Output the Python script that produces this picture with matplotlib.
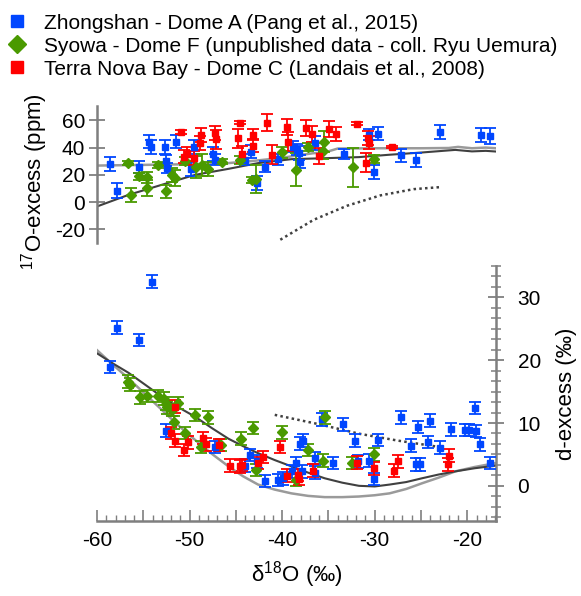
import numpy as np
import matplotlib
matplotlib.use("Agg")
import matplotlib.pyplot as plt
from matplotlib.lines import Line2D
from matplotlib.ticker import MultipleLocator, FuncFormatter

plt.rcParams['font.family'] = ['Liberation Sans', 'DejaVu Sans']
plt.rcParams['mathtext.fontset'] = 'custom'
plt.rcParams['mathtext.rm'] = 'Liberation Sans'
plt.rcParams['mathtext.it'] = 'Liberation Sans:italic'
plt.rcParams['mathtext.default'] = 'regular'
plt.rcParams['axes.unicode_minus'] = False

# ---------------- data: 17O-excess (top panel) ----------------
zh_d18o_top = [-58.6, -57.8, -55.5, -54.4, -54.2, -52.7, -52.6, -52.4, -51.5, -49.9, -49.5, -47.5,
               -47.3, -44.0, -43.4, -42.7, -41.8, -40.5, -38.8, -38.4, -38.2, -38.1, -36.4, -33.3,
               -30.6, -29.6, -30.1, -27.2, -25.5, -22.9, -18.5, -17.5]
zh_o17 = [28.1, 8.5, 25.5, 44.4, 40.2, 40.3, 30.5, 25.0, 44.4, 24.2, 40.3, 35.2,
          31.0, 31.0, 37.0, 13.9, 26.1, 31.3, 40.7, 38.3, 35.9, 29.7, 43.4, 35.3,
          49.3, 50.3, 22.0, 34.2, 31.0, 51.3, 49.3, 48.6]
zh_o17_err = [5, 5.4, 4.4, 5, 5, 5, 4, 4, 5, 5, 5, 5,
              4, 4, 5, 5, 4, 4, 4, 4, 5, 5, 5, 4,
              4, 5, 5, 5, 5, 5, 5, 6]

sy_d18o_top = [-56.6, -56.3, -55.5, -54.6, -54.6, -53.4, -52.5, -51.9, -51.6, -50.5, -49.3, -48.7,
               -48.0, -46.5, -44.6, -43.3, -42.8, -40.0, -38.5, -37.2, -35.5, -35.6, -32.4, -30.1]
sy_o17 = [29.0, 5.3, 18.8, 18.3, 10.5, 27.3, 7.8, 20.0, 17.6, 30.3, 25.6, 27.3,
          24.4, 29.7, 31.0, 16.3, 17.0, 36.4, 23.7, 40.7, 44.4, 37.6, 25.4, 31.5]
sy_o17_err = [1.5, 5.4, 2.5, 4, 6, 2, 5, 5, 6, 3, 8, 8,
              5, 2, 3, 2, 10, 4, 12, 3, 8, 6, 14, 3]

tn_d18o_top = [-50.9, -50.6, -50.3, -49.5, -48.9, -48.8, -47.2, -47.1, -44.8, -44.6, -44.3, -43.2,
               -43.1, -41.6, -41.1, -39.5, -39.4, -37.4, -36.8, -36.0, -34.9, -34.2, -31.9, -30.7,
               -30.6, -30.9, -28.1]
tn_o17 = [51.3, 33.4, 35.4, 32.2, 43.2, 49.3, 50.5, 46.2, 46.9, 58.3, 35.0, 49.3,
          41.5, 58.3, 34.7, 54.9, 44.4, 54.2, 50.0, 33.9, 53.5, 50.0, 57.4, 46.9,
          43.7, 29.0, 40.7]
tn_o17_err = [1.5, 5, 5, 5, 5, 5, 5, 7, 7, 1, 6, 4,
              5, 6, 7, 6, 7, 6, 6, 6, 6, 5, 1.2, 5,
              5, 7, 0.8]

# model curves, top panel
mod1_top_x = [-60, -56.6, -53, -49.4, -45.8, -42.6, -39, -35.4, -31.7, -28.5, -24.9, -21.3, -19.5, -18, -16.9]
mod1_top_y = [-3.2, 5.3, 12.7, 20.0, 24.4, 28.6, 31.5, 32.2, 33.0, 34.7, 36.4, 38.3, 37.2, 37.6, 37.1]
mod2_top_x = [-60, -55, -50, -46, -43, -40, -37.9, -36.6, -35.4, -34.0, -30, -25, -22, -21, -19.5, -18, -16.9]
mod2_top_y = [26.8, 27.3, 27.8, 28.5, 30.3, 32.5, 34.7, 35.9, 36.4, 39.3, 39.5, 39.5, 39.7, 40.5, 39.5, 40.0, 39.5]
mod3_top_x = [-40.2, -36.6, -33.0, -29.4, -25.8, -22.9]
mod3_top_y = [-27.6, -13.0, -2.7, 4.9, 9.5, 11.0]

# ---------------- data: d-excess (bottom panel) ----------------
zh_d18o_bot = [-54.1, -57.8, -55.5, -58.6, -52.5, -47.3, -43.5, -44.0, -42.7, -41.8, -40.5, -39.9,
               -38.9, -38.5, -38.1, -37.7, -37.9, -36.4, -36.4, -35.7, -34.5, -33.4, -32.1, -31.8,
               -30.6, -30.1, -29.6, -27.2, -26.1, -25.3, -25.5, -25.1, -24.2, -24.0, -22.9, -21.8,
               -20.2, -19.8, -19.2, -19.1, -18.6, -17.5]
zh_dex = [32.5, 25.2, 23.2, 18.9, 8.8, 6.2, 4.9, 3.2, 3.9, 0.8, 0.9, 1.2,
          2.3, 3.6, 6.7, 7.2, 2.3, 4.4, 2.1, 10.6, 3.6, 9.8, 7.2, 3.9,
          4.0, 1.1, 7.3, 10.9, 6.4, 9.4, 3.4, 3.4, 7.0, 10.4, 6.1, 9.0,
          8.9, 8.9, 12.4, 8.7, 6.6, 3.6]

sy_d18o_bot = [-56.6, -56.4, -55.4, -54.6, -53.4, -52.8, -52.5, -52.4, -51.9, -51.3, -51.7, -50.5,
               -49.4, -48.0, -48.8, -46.6, -44.4, -43.2, -42.8, -40.0, -38.5, -37.2, -35.6, -35.4,
               -32.5, -30.1]
sy_dex = [16.6, 16.1, 14.1, 14.3, 14.3, 13.9, 13.1, 12.5, 12.1, 13.2, 10.1, 8.4,
          11.3, 10.9, 6.2, 6.5, 7.5, 9.2, 2.5, 8.5, 0.9, 5.7, 4.0, 10.9,
          3.6, 5.0]

tn_d18o_bot = [-51.6, -52.0, -51.6, -50.2, -50.6, -48.5, -48.2, -46.8, -45.6, -44.6, -44.3, -42.6,
               -42.1, -40.2, -39.5, -38.3, -38.2, -36.7, -31.9, -30.1, -27.5, -27.9, -22.0, -22.1]
tn_dex = [12.6, 8.4, 7.2, 6.9, 5.7, 7.6, 6.6, 6.5, 3.2, 3.1, 3.3, 3.6,
          4.6, 6.2, 1.6, 1.7, 1.1, 2.4, 3.7, 2.8, 3.9, 2.4, 4.8, 3.4]
dex_err = 1.0

mod_bot_x = [-60, -58.3, -56.6, -54.8, -53, -51.2, -49.4, -47.6, -45.8, -44.2, -42.6, -40.8, -39,
             -37.2, -35.4, -33.5, -31.7, -30, -28.4, -26.6, -24.9, -23.1, -21.3, -19.2, -17]
mod1_bot_y = [21.1, 19.5, 18.0, 16.1, 14.2, 12.5, 11.0, 9.2, 7.5, 6.3, 5.2, 4.1, 3.1,
              2.1, 1.2, 0.5, 0.0, -0.1, 0.2, 0.6, 1.2, 1.8, 2.3, 2.8, 3.2]
mod2_bot_y = [21.6, 19.3, 17.1, 14.6, 12.1, 9.6, 7.3, 5.1, 3.1, 1.5, 0.2, -0.6, -1.2,
              -1.6, -1.8, -1.8, -1.7, -1.5, -1.2, -0.5, 0.4, 1.3, 2.3, 3.0, 3.6]
mod3_bot_x = [-40.8, -36.0, -31.7, -27.5, -23.1]
mod3_bot_y = [11.3, 9.8, 8.3, 7.2, 6.2]

labels = ["Zhongshan - Dome A (Pang et al., 2015)",
          "Syowa - Dome F (unpublished data - coll. Ryu Uemura)",
          "Terra Nova Bay - Dome C (Landais et al., 2008)"]
c_blue = '#0046FF'
c_green = '#4A9A00'
c_red = '#FF0000'
c_dark = '#404040'
c_light = '#9a9a9a'
c_spine = '#7f7f7f'

W, H = 581, 596
fig = plt.figure(figsize=(W / 100, H / 100), dpi=100)

def rect(x0, y0, x1, y1):
    return [x0 / W, 1 - y1 / H, (x1 - x0) / W, (y1 - y0) / H]

XLIM = (-60, -16.9)
ax1 = fig.add_axes(rect(97, 106, 496, 243))
ax2 = fig.add_axes(rect(97, 266, 496, 521))
for a in (ax1, ax2):
    a.set_facecolor('none')
    a.set_xlim(*XLIM)

ebkw = dict(linestyle='none', capsize=4.5, elinewidth=1.3, capthick=1.3)
TICK_FS = 15
LAB_FS = 16

# top panel
ax1.plot(mod2_top_x, mod2_top_y, color=c_light, lw=1.8, zorder=2)
ax1.plot(mod1_top_x, mod1_top_y, color=c_dark, lw=1.5, zorder=2)
ax1.plot(mod3_top_x, mod3_top_y, color=c_dark, lw=1.8, linestyle=(0, (1, 1.3)), zorder=2)
ax1.errorbar(zh_d18o_top, zh_o17, yerr=zh_o17_err, color=c_blue, marker='s', ms=5, **ebkw, zorder=3)
ax1.errorbar(sy_d18o_top, sy_o17, yerr=sy_o17_err, color=c_green, marker='D', ms=5, **ebkw, zorder=3)
ax1.errorbar(tn_d18o_top, tn_o17, yerr=tn_o17_err, color=c_red, marker='s', ms=5, **ebkw, zorder=3)
ax1.set_ylim(-30, 70.5)
for s in ('top', 'right', 'bottom'):
    ax1.spines[s].set_visible(False)
ax1.spines['left'].set_color(c_spine)
ax1.spines['left'].set_linewidth(1.8)
ax1.set_xticks([])
ax1.yaxis.set_major_locator(MultipleLocator(20))
ax1.tick_params(axis='y', direction='inout', length=11, width=1.3, color=c_spine,
                labelsize=TICK_FS, pad=3)
ax1.set_ylabel(r'$^{17}$O-excess (ppm)', fontsize=LAB_FS)
ax1.yaxis.set_label_coords(-0.118, 0.45)

# bottom panel
ax2.plot(mod_bot_x, mod2_bot_y, color=c_light, lw=1.8, zorder=2)
ax2.plot(mod_bot_x, mod1_bot_y, color=c_dark, lw=1.5, zorder=2)
ax2.plot(mod3_bot_x, mod3_bot_y, color=c_dark, lw=1.8, linestyle=(0, (1, 1.3)), zorder=2)
ax2.errorbar(zh_d18o_bot, zh_dex, yerr=dex_err, color=c_blue, marker='s', ms=5, **ebkw, zorder=3)
ax2.errorbar(sy_d18o_bot, sy_dex, yerr=dex_err, color=c_green, marker='D', ms=5, **ebkw, zorder=3)
ax2.errorbar(tn_d18o_bot, tn_dex, yerr=dex_err, color=c_red, marker='s', ms=5, **ebkw, zorder=3)
ax2.set_ylim(-5.6, 35)
for s in ('top', 'left'):
    ax2.spines[s].set_visible(False)
for s in ('bottom', 'right'):
    ax2.spines[s].set_color(c_spine)
    ax2.spines[s].set_linewidth(1.8)
ax2.yaxis.tick_right()
ax2.yaxis.set_label_position('right')
ax2.yaxis.set_major_locator(MultipleLocator(10))
ax2.yaxis.set_minor_locator(MultipleLocator(10 / 6))
ax2.tick_params(axis='y', which='major', direction='inout', length=11, width=1.3,
                color=c_spine, labelsize=TICK_FS, pad=10)
ax2.tick_params(axis='y', which='minor', direction='inout', length=7, width=1.1, color=c_spine)
ax2.xaxis.set_major_locator(MultipleLocator(5))
ax2.xaxis.set_minor_locator(MultipleLocator(1))
ax2.xaxis.set_major_formatter(FuncFormatter(lambda v, p: f"{v:.0f}" if abs(v % 10) < 1e-6 else ""))
ax2.tick_params(axis='x', which='major', direction='in', length=8, width=1.2,
                color=c_spine, labelsize=TICK_FS, pad=7)
ax2.tick_params(axis='x', which='minor', direction='in', length=4, width=1.0, color=c_spine)
ax2.set_ylabel('d-excess (‰)', fontsize=LAB_FS, rotation=90)
ax2.yaxis.set_label_coords(1.15, 0.5)
ax2.set_xlabel(r'δ$^{18}$O (‰)', fontsize=LAB_FS)
ax2.xaxis.set_label_coords(0.5, -0.15)

handles = [Line2D([], [], color=c_blue, marker='s', linestyle='none', markersize=9),
           Line2D([], [], color=c_green, marker='D', linestyle='none', markersize=9),
           Line2D([], [], color=c_red, marker='s', linestyle='none', markersize=8)]
fig.legend(handles, labels, loc='upper left', bbox_to_anchor=(0.012, 0.977), frameon=False,
           fontsize=15, handlelength=1.0, handletextpad=0.8, labelspacing=0.19,
           borderpad=0, borderaxespad=0)

fig.savefig('out.png', dpi=100)
